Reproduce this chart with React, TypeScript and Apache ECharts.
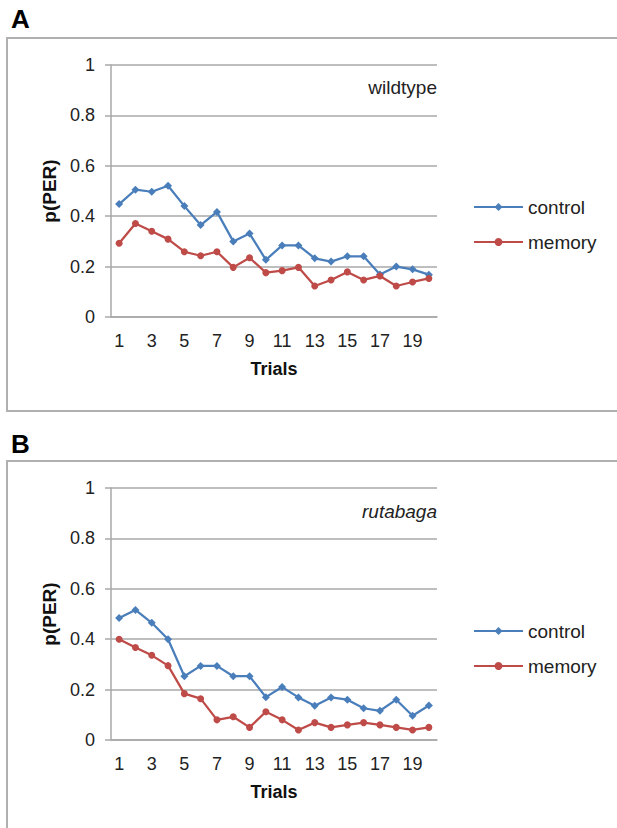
import React, { useEffect, useRef } from "react";
import * as echarts from "echarts";

const trials = ["1","2","3","4","5","6","7","8","9","10","11","12","13","14","15","16","17","18","19","20"];
const yTicks = [0, 0.2, 0.4, 0.6, 0.8, 1];

const wildControl = [0.448,0.505,0.497,0.521,0.44,0.365,0.417,0.30,0.331,0.227,0.284,0.284,0.233,0.22,0.241,0.241,0.169,0.20,0.189,0.168];
const wildMemory = [0.293,0.371,0.34,0.309,0.259,0.243,0.259,0.197,0.235,0.176,0.184,0.197,0.123,0.147,0.179,0.147,0.163,0.123,0.139,0.153];
const rutaControl = [0.484,0.516,0.465,0.40,0.253,0.294,0.294,0.253,0.253,0.17,0.21,0.169,0.136,0.169,0.16,0.126,0.116,0.16,0.096,0.137];
const rutaMemory = [0.40,0.367,0.336,0.295,0.184,0.164,0.08,0.092,0.05,0.112,0.08,0.04,0.069,0.05,0.06,0.069,0.06,0.05,0.04,0.05];

const seriesNames = ["control", "memory"];
const panelLabels = ["A", "B"];
const panelTitles = ["wildtype", "rutabaga"];
const yName = "p(PER)";
const xName = "Trials";

const BLUE = "#4a7ebb";
const RED = "#be4b48";
const GRID = "#a8a8a8";
const FONT = "'Liberation Sans', Arial, sans-serif";

export default function App() {
  const ref = useRef<HTMLDivElement>(null);
  useEffect(() => {
    if (!ref.current) return;
    const chart = echarts.init(ref.current, undefined, { renderer: "svg" });
    const tops = [65, 488];
    const gridH = 252;
    const grids = tops.map((t) => ({ left: 111, top: t, width: 326, height: gridH }));
    const xAxes = tops.map((_, i) => ({
      type: "category" as const,
      gridIndex: i,
      data: trials,
      boundaryGap: true,
      axisLine: { show: true, lineStyle: { color: GRID, width: 1.5 } },
      axisTick: { show: false },
      axisLabel: { interval: 1, fontSize: 18, color: "#222", fontFamily: FONT, margin: 15 },
      name: xName,
      nameLocation: "middle" as const,
      nameGap: 43,
      nameTextStyle: { fontSize: 18, fontWeight: "bold" as const, color: "#111", fontFamily: FONT },
    }));
    const yAxes = tops.map((_, i) => ({
      type: "value" as const,
      gridIndex: i,
      min: yTicks[0],
      max: yTicks[yTicks.length - 1],
      interval: 0.2,
      axisLine: { show: true, lineStyle: { color: GRID, width: 1.5 } },
      axisTick: { show: true, length: 6, lineStyle: { color: GRID, width: 1.5 } },
      splitLine: { show: true, lineStyle: { color: GRID, width: 1.5 } },
      axisLabel: { fontSize: 18, color: "#222", fontFamily: FONT, margin: 16 },
      name: yName,
      nameLocation: "middle" as const,
      nameGap: 50,
      nameTextStyle: { fontSize: 19, fontWeight: "bold" as const, color: "#111", fontFamily: FONT },
    }));
    const data = [
      [wildControl, wildMemory],
      [rutaControl, rutaMemory],
    ];
    const series: any[] = [];
    data.forEach((pair, i) => {
      series.push({
        name: seriesNames[0], type: "line", xAxisIndex: i, yAxisIndex: i, data: pair[0],
        symbol: "diamond", symbolSize: 8, color: BLUE,
        lineStyle: { color: BLUE, width: 2.25 }, itemStyle: { color: BLUE },
      });
      series.push({
        name: seriesNames[1], type: "line", xAxisIndex: i, yAxisIndex: i, data: pair[1],
        symbol: "circle", symbolSize: 7, color: RED,
        lineStyle: { color: RED, width: 2.25 }, itemStyle: { color: RED },
      });
    });
    const legends = [192, 616].map((t) => ({
      orient: "vertical" as const,
      left: 468,
      top: t,
      itemWidth: 49,
      itemHeight: 10,
      itemGap: 15,
      itemTextGap: 5,
      data: seriesNames,
      textStyle: { fontSize: 19, color: "#222", fontFamily: FONT, lineHeight: 20 },
    }));
    const graphic: any[] = [
      { type: "rect", shape: { x: 7, y: 38, width: 640, height: 373 }, style: { fill: "none", stroke: "#b0b0b0", lineWidth: 2 }, silent: true },
      { type: "rect", shape: { x: 7, y: 461, width: 640, height: 420 }, style: { fill: "none", stroke: "#b0b0b0", lineWidth: 2 }, silent: true },
      { type: "text", left: 11, top: 6, style: { text: panelLabels[0], font: `bold 26px ${FONT}`, fill: "#000" } },
      { type: "text", left: 11, top: 431, style: { text: panelLabels[1], font: `bold 26px ${FONT}`, fill: "#000" } },
      { type: "text", x: 437, y: 87, style: { text: panelTitles[0], font: `19px ${FONT}`, fill: "#222", align: "right", verticalAlign: "middle" } },
      { type: "text", x: 437, y: 511, style: { text: panelTitles[1], font: `italic 19px ${FONT}`, fill: "#222", align: "right", verticalAlign: "middle" } },
    ];
    chart.setOption({
      animation: false,
      backgroundColor: "#fff",
      grid: grids,
      xAxis: xAxes,
      yAxis: yAxes,
      legend: legends,
      series,
      graphic,
    });
    return () => chart.dispose();
  }, []);
  return <div ref={ref} style={{ position: "absolute", left: 0, top: 0, width: 617, height: 828 }} />;
}
